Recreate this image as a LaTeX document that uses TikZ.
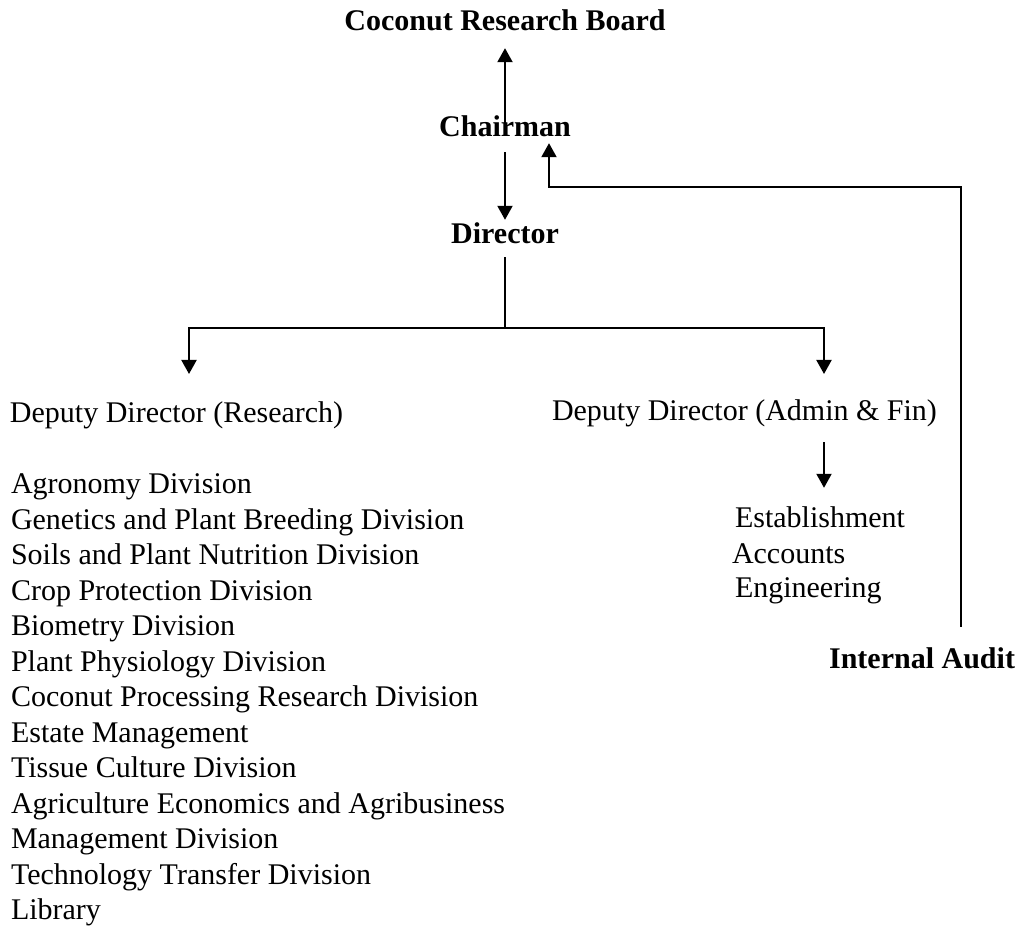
\documentclass[tikz,border=0pt]{standalone}
\usepackage{fontspec}
\setmainfont{Liberation Serif}
\usetikzlibrary{positioning}
\usetikzlibrary{arrows.meta}

\begin{document}
\begin{tikzpicture}[x=0.5pt,y=-0.5pt,outer sep=0pt,inner sep=0pt,
unit/.style={
  font=\fontsize{15pt}{17.75pt}\selectfont,
  text height=10pt,
  text depth=3.2pt},
head/.style={unit,font=\fontsize{15pt}{17.75pt}\selectfont\bfseries},
link/.style={line width=1pt},
arr/.style={link,-{Triangle[width=7.5pt,length=7pt]}},
]
\useasboundingbox (0,0) rectangle (1018,929);
% top of the chart
\node[head] (crb) at (505,24) {Coconut Research Board};
\node[head, on grid, below=53pt of crb] (chair) {Chairman};
\node[head, on grid, below=53.5pt of chair] (dir) {Director};
\node[unit, anchor=west] (ddr) at (10,416) {Deputy Director (Research)};
\node[unit, anchor=west] (dda) at (552,414) {Deputy Director (Admin \& Fin)};
\node[head, anchor=east] (audit) at (1015,662) {Internal Audit};
% admin side
\node[unit, anchor=west] (est) at (735,521) {Establishment};
\node[unit, anchor=west] (acc) at (732,557) {Accounts};
\node[unit, anchor=west] (eng) at (735,591) {Engineering};
% research divisions
\foreach \name [count=\i] in {Agronomy Division,
  Genetics and Plant Breeding Division,
  Soils and Plant Nutrition Division,
  Crop Protection Division,
  Biometry Division,
  Plant Physiology Division,
  Coconut Processing Research Division,
  Estate Management,
  Tissue Culture Division,
  Agriculture Economics and Agribusiness,
  Management Division,
  Technology Transfer Division,
  Library}
  \node[unit, anchor=west] (div\i) at (11,{487+35.5*(\i-1)}) {\name};

\coordinate (split) at (505,328);
\coordinate (ddrtip) at (189,374);
\coordinate (ddatip) at (824,374);
\coordinate (bend) at (961,187);

\draw[arr, shorten <=-3.5pt, shorten >=5.5pt] (chair.north) -- (crb.south);
\draw[arr, shorten <=4.5pt, shorten >=2pt] (chair.south) -- (dir.north);
\draw[link, shorten <=3.5pt] (dir.south) -- (split);
\draw[arr] (split) -| (ddrtip);
\draw[arr] (split) -| (ddatip);
\draw[arr, shorten <=7.5pt, shorten >=10pt] (ddatip |- dda.south) -- (ddatip |- est.north);
\draw[arr, shorten <=11pt] (bend |- audit.north) -- (bend) -| ([xshift=22pt]chair.south);
\end{tikzpicture}
\end{document}
